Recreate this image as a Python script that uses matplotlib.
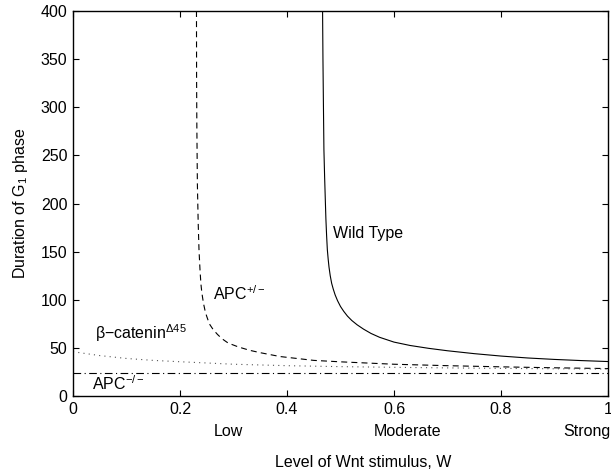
import numpy as np
import matplotlib
matplotlib.use("Agg")
import matplotlib.pyplot as plt
from matplotlib import transforms

plt.rcParams['font.family'] = ['Liberation Sans', 'DejaVu Sans']
plt.rcParams['mathtext.fontset'] = 'custom'
plt.rcParams['mathtext.rm'] = 'Liberation Sans'
plt.rcParams['mathtext.it'] = 'Liberation Sans:italic'
plt.rcParams['lines.scale_dashes'] = False

# values
w_wild = [0.4665, 0.4672, 0.468, 0.469, 0.4703, 0.4716, 0.4727, 0.474, 0.4754, 0.477,
          0.4785, 0.4808, 0.4835, 0.4865, 0.49, 0.4945, 0.5, 0.506, 0.513, 0.521,
          0.531, 0.543, 0.557, 0.573, 0.60, 0.63, 0.665, 0.70, 0.75, 0.80, 0.85,
          0.90, 0.95, 1.0]
g1_wild = [400, 350, 307, 256, 228, 204, 184, 167, 152, 142,
           134, 125, 117, 111, 105, 99, 93, 88, 83, 78.5,
           74, 69.5, 65, 61, 56, 52.5, 49.5, 47, 44, 41.5, 39.5,
           38, 36.8, 35.8]

w_apc_het = [0.2308, 0.231, 0.2315, 0.2325, 0.234, 0.2355, 0.2374, 0.239, 0.2405, 0.242,
             0.244, 0.2467, 0.2495, 0.2523, 0.256, 0.262, 0.27, 0.2785, 0.29, 0.309,
             0.33, 0.35, 0.387, 0.45, 0.50, 0.60, 0.70, 0.80, 0.90, 1.0]
g1_apc_het = [400, 330, 280, 220, 180, 152, 131, 117, 109, 103,
              96, 89, 83.5, 79, 74, 69, 64, 59.5, 55, 51,
              47.5, 45, 41, 37, 35.5, 33, 31.5, 30.3, 29.3, 28.5]

w_bcat = [0.0, 0.05, 0.1, 0.15, 0.2, 0.3, 0.4, 0.5, 0.6, 0.7, 0.8, 0.9, 1.0]
g1_bcat = [46, 42, 39, 37, 35.6, 33, 31.5, 30.5, 29.8, 29.2, 28.7, 28.3, 28]

w_apc_null = [0.0, 1.0]
g1_apc_null = [24, 24]

xticks = [0, 0.2, 0.4, 0.6, 0.8, 1]
xticklabels = ['0', '0.2', '0.4', '0.6', '0.8', '1']
yticks = [0, 50, 100, 150, 200, 250, 300, 350, 400]
levels = ['Low', 'Moderate', 'Strong']
level_pos = [0.29, 0.626, 0.96]

fig = plt.figure(figsize=(6.11, 4.75), dpi=100)
ax = fig.add_axes([73/611, 79/475, 535/611, 385/475])

ax.plot(w_wild, g1_wild, color='k', lw=0.8, linestyle='-')
ax.plot(w_apc_het, g1_apc_het, color='k', lw=0.8, linestyle=(0, (4.3, 3.0)))
ax.plot(w_bcat, g1_bcat, color='#555555', lw=0.8, linestyle=(0, (0.8, 3.0)))
ax.plot(w_apc_null, g1_apc_null, color='k', lw=0.8, linestyle=(0, (5.5, 2.5, 0.8, 2.5)))

ax.set_xlim(0, 1)
ax.set_ylim(0, 400)
ax.set_xticks(xticks)
ax.set_xticklabels(xticklabels)
ax.set_yticks(yticks)
ax.tick_params(direction='in', top=True, right=True, length=4, width=0.8,
               labelsize=11.5, pad=4)
for s in ax.spines.values():
    s.set_linewidth(1.0)

ax.text(0.486, 164, 'Wild Type', fontsize=11.5, ha='left', va='baseline')
ax.text(0.262, 100, 'APC$^{+/\u2212}$', fontsize=11.5, ha='left', va='baseline')
ax.text(0.041, 59, '\u03b2\u2212catenin$^{\u0394 45}$', fontsize=11.5, ha='left', va='baseline')
ax.text(0.036, 6, 'APC$^{\u2212/\u2212}$', fontsize=11.5, ha='left', va='baseline')

trans = transforms.blended_transform_factory(ax.transData, ax.transAxes)
for lab, xp in zip(levels, level_pos):
    ax.text(xp, -0.091, lab, transform=trans, fontsize=11.5, ha='center', va='center')

ax.text(0.542, -0.174, 'Level of Wnt stimulus, W', transform=ax.transAxes,
        fontsize=11.5, ha='center', va='center')
fig.text(21/611, 1 - 203.5/475, 'Duration of G$_1$ phase', rotation=90,
         fontsize=11.5, ha='center', va='center')

fig.savefig('out.png', dpi=100)
